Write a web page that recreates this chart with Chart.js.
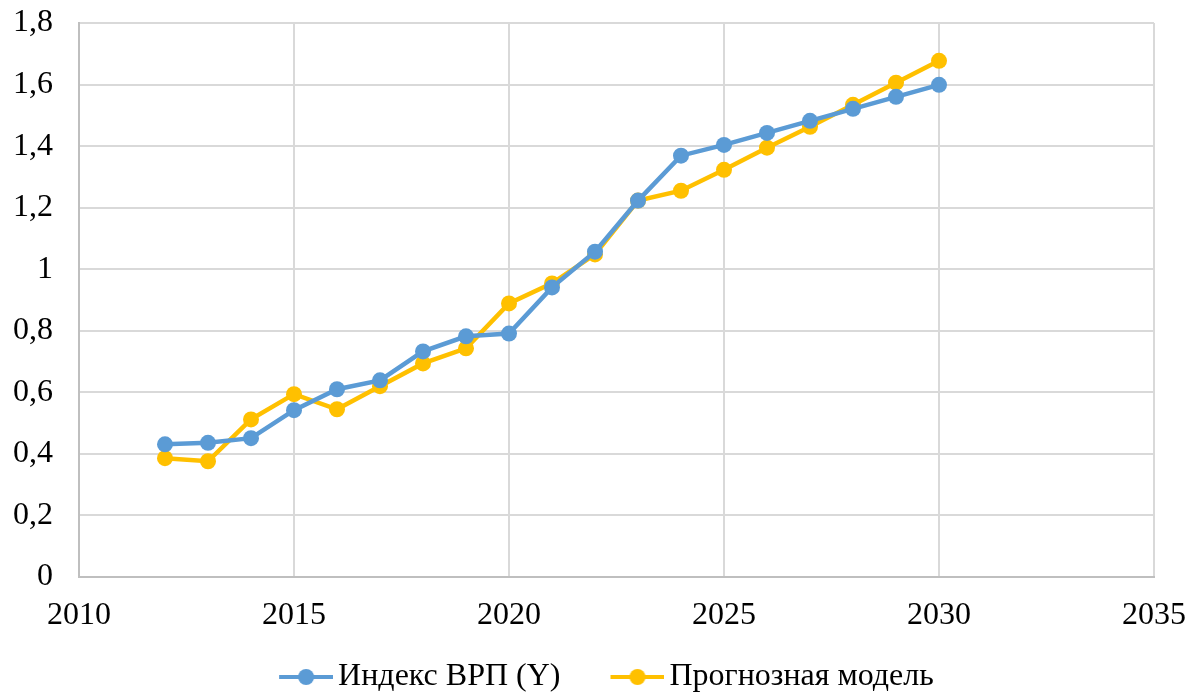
<!DOCTYPE html>
<html>
<head>
<meta charset="utf-8">
<script src="https://cdn.jsdelivr.net/npm/chart.js@4.4.1/dist/chart.umd.min.js"></script>
<style>
  html, body { margin: 0; padding: 0; background: #fff; }
  #wrap { width: 1197px; height: 693px; }
</style>
</head>
<body>
<div id="wrap"><canvas id="grpChart" width="1197" height="693"></canvas></div>
<script>
const years = [2012, 2013, 2014, 2015, 2016, 2017, 2018, 2019, 2020, 2021,
               2022, 2023, 2024, 2025, 2026, 2027, 2028, 2029, 2030];
const grpIndex = [0.431, 0.436, 0.451, 0.542, 0.610, 0.639, 0.733, 0.782, 0.791, 0.941,
                  1.057, 1.223, 1.369, 1.404, 1.443, 1.482, 1.521, 1.560, 1.599];
const forecast = [0.386, 0.376, 0.512, 0.594, 0.545, 0.620, 0.694, 0.743, 0.889, 0.954,
                  1.048, 1.223, 1.255, 1.323, 1.395, 1.463, 1.534, 1.606, 1.677];
const seriesNames = ['Индекс ВРП (Y)', 'Прогнозная модель'];
const xTicks = [2010, 2015, 2020, 2025, 2030, 2035];
const yMax = 1.8;

const blue = '#5B9BD5';
const gold = '#FFC000';
const fontFamily = "'Liberation Serif', 'Times New Roman', serif";

function points(ys) {
    return years.map((x, i) => ({ x: x, y: ys[i] }));
}

// legend marker: short line with a dot, with blank space on the left
// so that the legend items sit further apart
const markerGap = 51;
function marker(color) {
    const c = document.createElement('canvas');
    c.width = 54 + markerGap; c.height = 18;
    const g = c.getContext('2d');
    g.strokeStyle = color;
    g.lineWidth = 4;
    g.beginPath(); g.moveTo(markerGap, 9); g.lineTo(markerGap + 54, 9); g.stroke();
    g.fillStyle = color;
    g.beginPath(); g.arc(markerGap + 27, 9, 8, 0, Math.PI * 2); g.fill();
    return c;
}

// move the legend row down to the bottom edge
const legendShift = {
    id: 'legendShift',
    afterLayout(chart) {
        const lg = chart.legend;
        if (!lg) return;
        lg.top += 10; lg.bottom += 10;
        lg.left -= 12; lg.right -= 12;
    }
};

const ctx = document.getElementById('grpChart');

new Chart(ctx, {
    type: 'scatter',
    data: {
        datasets: [{
            label: seriesNames[0],
            data: points(grpIndex),
            showLine: true,
            borderColor: blue,
            backgroundColor: blue,
            borderWidth: 4.5,
            pointRadius: 8,
            pointHoverRadius: 8,
            pointBorderWidth: 0
        }, {
            label: seriesNames[1],
            data: points(forecast),
            showLine: true,
            borderColor: gold,
            backgroundColor: gold,
            borderWidth: 4.5,
            pointRadius: 8,
            pointHoverRadius: 8,
            pointBorderWidth: 0
        }]
    },
    plugins: [legendShift],
    options: {
        responsive: false,
        animation: false,
        layout: { padding: 0 },
        scales: {
            x: {
                type: 'linear',
                min: xTicks[0],
                max: xTicks[xTicks.length - 1],
                afterBuildTicks: axis => { axis.ticks = xTicks.map(v => ({ value: v })); },
                grid: { color: '#D9D9D9', lineWidth: 2, drawTicks: false },
                border: { color: '#BFBFBF', width: 2 },
                ticks: {
                    color: '#000',
                    font: { family: fontFamily, size: 32 },
                    padding: 19,
                    callback: v => String(v)
                },
                afterFit: axis => {
                    axis.height = 64;
                    axis.paddingLeft = 0;
                    axis.paddingRight = 43;
                }
            },
            y: {
                min: 0,
                max: yMax,
                ticks: {
                    stepSize: 0.2,
                    color: '#000',
                    font: { family: fontFamily, size: 32 },
                    padding: 26,
                    callback: v => String(Math.round(v * 10) / 10).replace('.', ',')
                },
                grid: { color: '#D9D9D9', lineWidth: 2, drawTicks: false },
                border: { color: '#BFBFBF', width: 2 },
                afterFit: axis => {
                    axis.width = 79;
                    axis.paddingTop = 23;
                    axis.paddingBottom = 0;
                }
            }
        },
        plugins: {
            tooltip: { enabled: false },
            legend: {
                position: 'bottom',
                labels: {
                    color: '#000',
                    font: { family: fontFamily, size: 32 },
                    usePointStyle: true,
                    pointStyleWidth: 32 + markerGap,
                    padding: 10,
                    generateLabels: chart => chart.data.datasets.map((ds, i) => ({
                        text: ds.label,
                        pointStyle: marker(ds.borderColor),
                        fillStyle: ds.borderColor,
                        strokeStyle: ds.borderColor,
                        lineWidth: 0,
                        datasetIndex: i,
                        hidden: false
                    }))
                }
            }
        }
    }
});
</script>
</body>
</html>
